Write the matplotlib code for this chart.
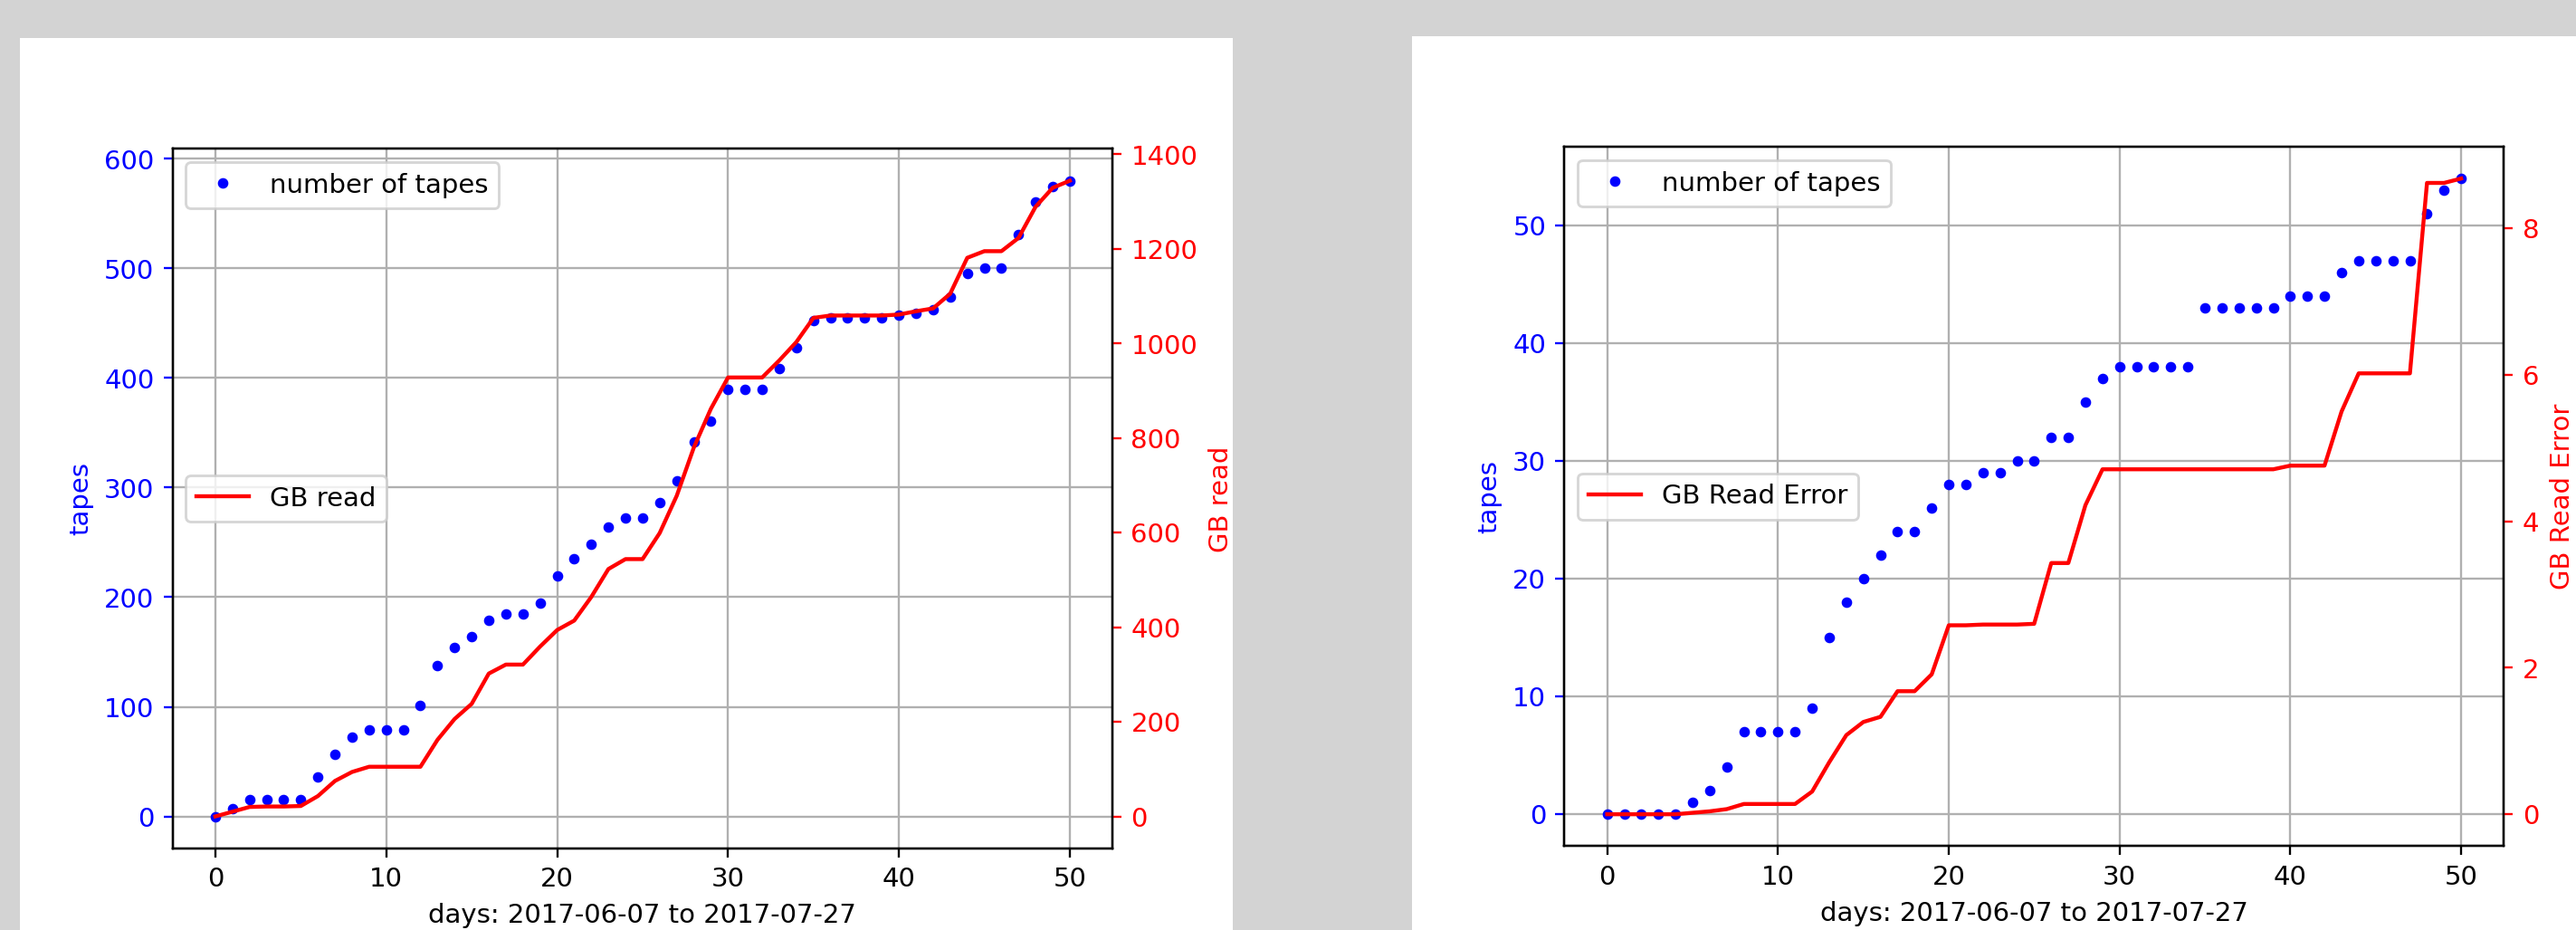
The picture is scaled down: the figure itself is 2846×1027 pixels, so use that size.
import numpy as np
import matplotlib
matplotlib.use("Agg")
import matplotlib.pyplot as plt
from matplotlib.patches import Rectangle

# figure is two default 6.4x4.8 matplotlib panels pasted on a grey page
DPI = 209.3
W_PX, H_PX = 2846, 1027

days = list(range(51))
xlabel = 'days: 2017-06-07 to 2017-07-27'

# left panel: tapes vs GB read
tapes_read = [0, 7, 15, 15, 15, 15, 36, 57, 72, 79, 79, 79, 101, 138, 154, 164, 179,
              185, 185, 195, 219, 235, 248, 264, 272, 272, 286, 306, 342, 361, 390,
              390, 390, 409, 428, 452, 455, 455, 455, 455, 457, 459, 462, 474, 495,
              500, 500, 531, 561, 575, 580]
gb_read = [0, 10, 20, 21, 21, 22, 43, 75, 94, 105, 105, 105, 105, 162, 206, 238, 302,
           321, 321, 359, 394, 414, 464, 523, 544, 544, 599, 678, 780, 862, 928, 928,
           928, 964, 1003, 1054, 1059, 1059, 1059, 1059, 1061, 1068, 1074, 1105, 1181,
           1195, 1195, 1223, 1289, 1329, 1344]

# right panel: tapes vs GB read error
tapes_err = [0, 0, 0, 0, 0, 1, 2, 4, 7, 7, 7, 7, 9, 15, 18, 20, 22, 24, 24, 26, 28, 28,
             29, 29, 30, 30, 32, 32, 35, 37, 38, 38, 38, 38, 38, 43, 43, 43, 43, 43, 44,
             44, 44, 46, 47, 47, 47, 47, 51, 53, 54]
gb_err = [0, 0, 0, 0, 0, 0.02, 0.04, 0.07, 0.14, 0.14, 0.14, 0.14, 0.31, 0.71, 1.08,
          1.26, 1.33, 1.68, 1.68, 1.91, 2.58, 2.58, 2.59, 2.59, 2.59, 2.60, 3.43, 3.43,
          4.22, 4.71, 4.71, 4.71, 4.71, 4.71, 4.71, 4.71, 4.71, 4.71, 4.71, 4.71, 4.76,
          4.76, 4.76, 5.50, 6.02, 6.02, 6.02, 6.02, 8.62, 8.62, 8.68]


def px_rect(x0, y0, x1, y1):
    """pixel box (top-left origin) -> figure fraction [l, b, w, h]"""
    return [x0 / W_PX, 1 - y1 / H_PX, (x1 - x0) / W_PX, (y1 - y0) / H_PX]


def two_scale_plot(fig, box, tapes, gb, gb_label):
    ax1 = fig.add_axes(px_rect(*box))
    ax1.plot(days, tapes, 'b.', label='number of tapes')
    ax1.set_xlabel(xlabel)
    ax1.set_ylabel('tapes', color='b')
    ax1.tick_params('y', colors='b')
    ax1.grid(True)
    ax1.legend(loc='upper left')

    ax2 = ax1.twinx()
    ax2.plot(days, gb, 'r-', label=gb_label)
    ax2.set_ylabel(gb_label, color='r')
    ax2.tick_params('y', colors='r')
    ax2.legend(loc='center left')
    return ax1, ax2


# small pad so the pixel size is not truncated down by one
fig = plt.figure(figsize=((W_PX + 0.3) / DPI, (H_PX + 0.3) / DPI), dpi=DPI, facecolor='#d3d3d3')

# white panels behind each chart
fig.patches.append(Rectangle((22.3 / W_PX, 0), (1361.7 - 22.3) / W_PX, 1 - 42.7 / H_PX,
                             transform=fig.transFigure, facecolor='white', edgecolor='none', zorder=-10))
fig.patches.append(Rectangle((1560 / W_PX, 0), (W_PX - 1560) / W_PX, 1 - 40 / H_PX,
                             transform=fig.transFigure, facecolor='white', edgecolor='none', zorder=-10))

two_scale_plot(fig, (190.7, 164.7, 1229.0, 936.7), tapes_read, gb_read, 'GB read')
two_scale_plot(fig, (1728.3, 162.3, 2766.0, 934.3), tapes_err, gb_err, 'GB Read Error')

fig.savefig('out.png', dpi=DPI, facecolor=fig.get_facecolor())
plt.close(fig)
